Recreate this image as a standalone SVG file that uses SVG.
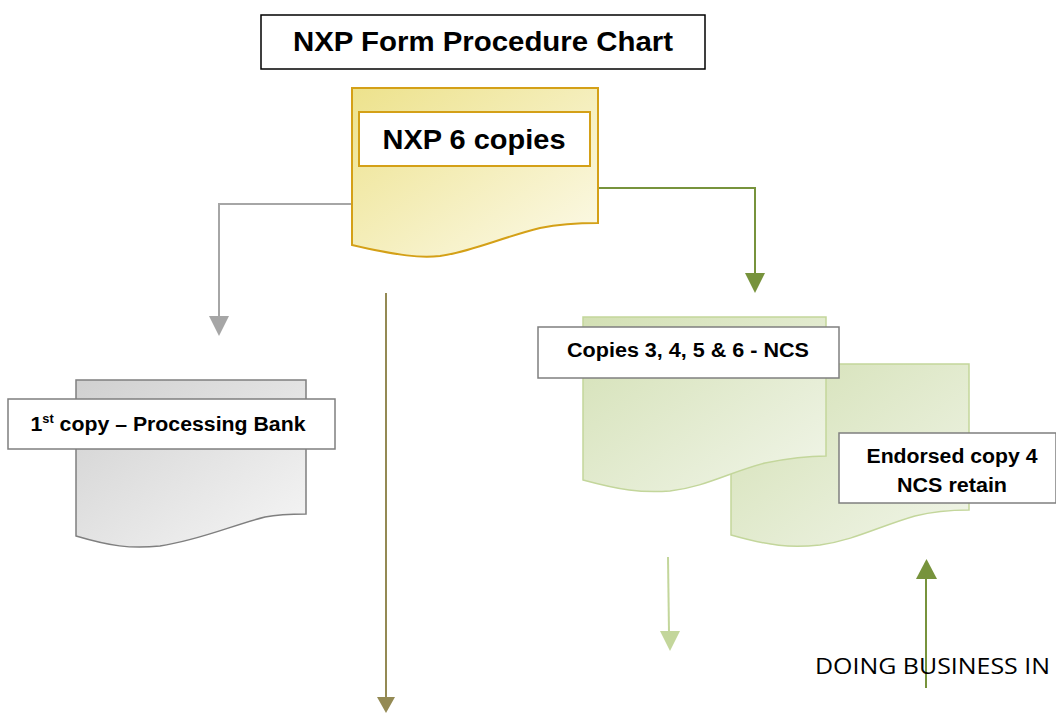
<svg xmlns="http://www.w3.org/2000/svg" width="1056" height="713" viewBox="0 0 1056 713">
<style>
.lbl{font-family:"Liberation Sans",Arial,sans-serif;font-weight:bold;fill:#000;text-anchor:middle}
.box{fill:#fff;stroke:#7f7f7f;stroke-width:1.5}
.conn{fill:none;stroke-width:2}
</style>
<defs>
<linearGradient id="gy" x1="0" y1="0" x2="1" y2="1">
<stop offset="0" stop-color="#ede28c"/><stop offset="1" stop-color="#fcfaea"/>
</linearGradient>
<linearGradient id="gg" x1="0" y1="0" x2="1" y2="1">
<stop offset="0" stop-color="#d3e0b4"/><stop offset="1" stop-color="#f1f5e9"/>
</linearGradient>
<linearGradient id="ga" x1="0" y1="0" x2="1" y2="1">
<stop offset="0" stop-color="#d0d0d0"/><stop offset="1" stop-color="#f6f6f6"/>
</linearGradient>
<marker id="mGray" markerWidth="20" markerHeight="20" refX="10" refY="20" orient="auto-start-reverse" markerUnits="userSpaceOnUse" viewBox="0 0 20 20"><path d="M0,0 L20,0 L10,20 Z" fill="#a6a6a6" transform="rotate(-90 10 10)"/></marker>
</defs>

<g id="title">
<rect x="261" y="15" width="444" height="54" fill="#fff" stroke="#000" stroke-width="1.5"/>
<text class="lbl" x="483" y="51" font-size="28" textLength="380" lengthAdjust="spacingAndGlyphs">NXP Form Procedure Chart</text>
</g>

<g id="connectors">
<path class="conn" d="M352,204 H219 V318" stroke="#a6a6a6"/>
<path d="M209,316 L229,316 L219,336 Z" fill="#a6a6a6"/>
<path class="conn" d="M598,188 H755 V275" stroke="#77933c"/>
<path d="M745,273 L765,273 L755,293 Z" fill="#77933c"/>
<path class="conn" d="M386,293 V699" stroke="#948a54"/>
<path d="M377,697 L395,697 L386,713 Z" fill="#948a54"/>
<path class="conn" d="M668,557 L669,633" stroke="#c3d69b"/>
<path d="M660,631 L680,631 L670,651 Z" fill="#c3d69b"/>
<path class="conn" d="M926,688 V577" stroke="#77933c"/>
<path d="M916,579 L937,579 L926.5,559 Z" fill="#77933c"/>
</g>

<g id="nxp6">
<path d="M352,88 H598 V223 C575,223 560,224 540,228 C500,238 470,252 440,256 C420,258 400,256 352,245 Z" fill="url(#gy)" stroke="#d4a017" stroke-width="2"/>
<rect x="359" y="112" width="231" height="54" fill="#fff" stroke="#d4a017" stroke-width="2"/>
<text class="lbl" x="474" y="149" font-size="28" textLength="183" lengthAdjust="spacingAndGlyphs">NXP 6 copies</text>
</g>

<g id="copy1">
<path d="M76,380 H306 V514 C290,514 280,514 265,517 C230,526 200,540 160,546 C130,549 110,546 76,536 Z" fill="url(#ga)" stroke="#7f7f7f" stroke-width="1.5"/>
<rect class="box" x="8" y="399" width="327" height="50"/>
<text class="lbl" x="168" y="431" font-size="20" textLength="275" lengthAdjust="spacingAndGlyphs">1<tspan font-size="12" dy="-8">st</tspan><tspan dy="8"> copy – Processing Bank</tspan></text>
</g>

<g id="endorsed">
<path d="M731,364 H969 V510 C950,510 935,511 915,516 C880,526 855,540 820,545 C790,548 770,546 731,535 Z" fill="url(#gg)" stroke="#c3d69b" stroke-width="1.5"/>
</g>

<g id="copies3456">
<path d="M583,317 H826 V456 C805,456 790,458 765,463 C730,472 705,487 670,491 C640,493 620,490 583,480 Z" fill="url(#gg)" stroke="#c3d69b" stroke-width="1.5"/>
<rect class="box" x="538" y="327" width="301" height="51"/>
<text class="lbl" x="688" y="357" font-size="20" textLength="242" lengthAdjust="spacingAndGlyphs">Copies 3, 4, 5 &amp; 6 - NCS</text>
</g>

<g id="endorsedLabel">
<rect class="box" x="839" y="433" width="217" height="70"/>
<text class="lbl" x="952" y="463" font-size="20" textLength="171" lengthAdjust="spacingAndGlyphs">Endorsed copy 4</text>
<text class="lbl" x="952" y="492" font-size="20" textLength="110" lengthAdjust="spacingAndGlyphs">NCS retain</text>
</g>

<text x="815" y="674" font-family="'Open Sans','Liberation Sans',sans-serif" font-size="21" fill="#000" textLength="235" lengthAdjust="spacingAndGlyphs">DOING BUSINESS IN</text>
</svg>
